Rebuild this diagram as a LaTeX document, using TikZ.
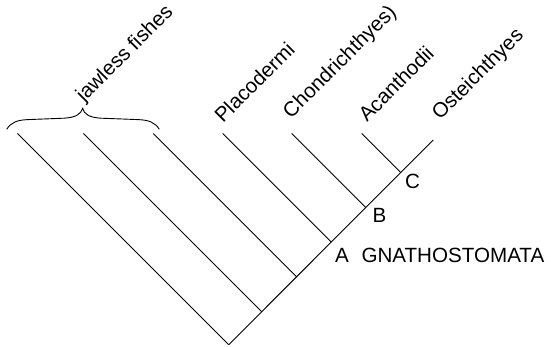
\documentclass[tikz,border=0pt]{standalone}
\usepackage{fontspec}
\setmainfont{Liberation Sans}
\begin{document}
\begin{tikzpicture}[x=1pt,y=-1pt,
  lbl/.style={font=\fontsize{20.6}{24}\selectfont, inner sep=0pt, anchor=base west},
  taxon/.style={lbl, rotate=45},
  branch/.style={draw=black, line width=0.9pt}]
\useasboundingbox (0,0) rectangle (551,347);
% leaf tips
\coordinate (t1) at (17.5,133.5);
\coordinate (t2) at (83.5,133.5);
\coordinate (t3) at (153.3,133.5);
\coordinate (t4) at (222.7,133.5);
\coordinate (t5) at (291.7,133.5);
\coordinate (t6) at (361.7,133.5);
% junctions on the trunk
\coordinate (root) at (228.7,344.7);
\coordinate (j2) at (261.65,311.65);
\coordinate (j3) at (296.55,276.75);
\coordinate (jA) at (331.25,242.05);
\coordinate (jB) at (365.75,207.55);
\coordinate (jC) at (400.75,172.55);
\coordinate (top) at (433.3,140);
% branches
\draw[branch] (root) -- (top);
\draw[branch] (t1) -- (root);
\draw[branch] (t2) -- (j2);
\draw[branch] (t3) -- (j3);
\draw[branch] (t4) -- (jA);
\draw[branch] (t5) -- (jB);
\draw[branch] (t6) -- (jC);
% brace
\coordinate (bl) at (6.7,129.3);
\coordinate (bt) at (82.7,108.3);
\coordinate (br) at (159.3,129.3);
\draw[branch] (bl) .. controls (11,122.5) and (17,120) .. (28,119.6)
  -- (64,118.2) .. controls (76,117.5) and (81,114) .. (bt)
  .. controls (84,114) and (89,117.5) .. (101,118.2)
  -- (138,119.6) .. controls (149,120) and (155,122.5) .. (br);
% labels
\node[taxon] (jf) at (84,103) {jawless fishes};
\node[taxon] (pl) at (223,124) {Placodermi};
\node[taxon] (ch) at (291,119.5) {Chondrichthyes)};
\node[taxon] (ac) at (367,123) {Acanthodii};
\node[taxon] (os) at (440,121) {Osteichthyes};
\node[lbl] (la) at (335,262.3) {A};
\node[lbl] (gn) at (361.3,262.3) {GNATHOSTOMATA};
\node[lbl] (lb) at (372.4,222.7) {B};
\node[lbl] (lc) at (405,189) {C};
\end{tikzpicture}
\end{document}
